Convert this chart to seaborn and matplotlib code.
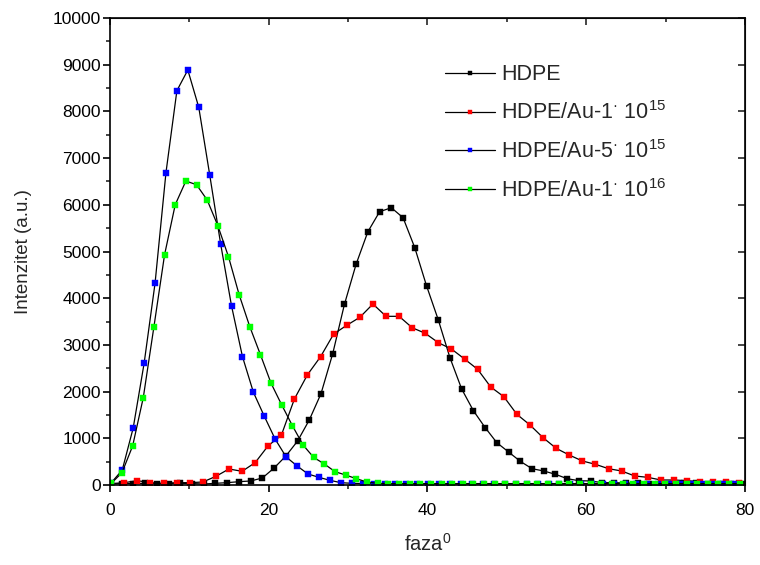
import numpy as np
import pandas as pd
import matplotlib
matplotlib.use("Agg")
import matplotlib.pyplot as plt
from matplotlib.ticker import MultipleLocator
import seaborn as sns

# intensities, one list per sample
hdpe = [20, 30, 30, 36, 30, 30, 36, 30, 21, 36, 50, 71, 86, 150, 364, 620, 940,
        1392, 1955, 2812, 3869, 4732, 5424, 5852, 5938, 5724, 5082, 4268, 3540,
        2726, 2056, 1591, 1230, 906, 707, 507, 349, 300, 229, 135, 92, 86, 50,
        50, 43, 36, 30, 30, 30, 36, 36, 30, 30, 30, 25]
au1_15 = [30, 50, 92, 50, 36, 50, 50, 64, 185, 343, 293, 478, 842, 1063, 1842,
          2362, 2748, 3233, 3420, 3591, 3876, 3612, 3612, 3368, 3248, 3047, 2912,
          2698, 2477, 2099, 1891, 1513, 1285, 1013, 785, 642, 514, 443, 349, 300,
          193, 164, 107, 107, 92, 71, 57, 57, 50]
au5_15 = [50, 321, 1220, 2605, 4318, 6690, 8445, 8887, 8088, 6645, 5167, 3833,
          2748, 1985, 1471, 978, 600, 407, 235, 164, 100, 50, 36, 30, 30, 25, 25,
          25, 25, 25, 25, 25, 25, 25, 25, 25, 25, 25, 25, 25, 25, 25, 25, 25, 25,
          25, 25, 25, 25, 25, 25, 25, 25, 25, 25, 25, 25, 25]
au1_16 = [36, 264, 835, 1870, 3390, 4932, 6003, 6510, 6430, 6103, 5553, 4889,
          4075, 3390, 2790, 2177, 1713, 1270, 856, 590, 450, 285, 214, 135, 64,
          36, 30, 30, 30, 30, 30, 30, 30, 30, 30, 30, 30, 30, 30, 30, 30, 30, 30,
          30, 30, 30, 30, 30, 30, 30, 30, 30, 30, 30, 30, 30, 30, 30, 30, 30]

# each sample was recorded on its own phase step (start, step)
steps = {"hdpe": (0.0, 1.477), "au1_15": (0.15, 1.649),
         "au5_15": (0.17, 1.377), "au1_16": (0.17, 1.342)}

labels = ["HDPE", "HDPE/Au-1$^{\u00b7}$ 10$^{15}$", "HDPE/Au-5$^{\u00b7}$ 10$^{15}$",
          "HDPE/Au-1$^{\u00b7}$ 10$^{16}$"]
colors = ["#000000", "#ff0000", "#0000ff", "#00ff00"]

sns.set_style("ticks")
plt.rcParams['font.family'] = ['Liberation Sans', 'DejaVu Sans']
plt.rcParams['mathtext.default'] = 'regular'

fig = plt.figure(figsize=(7.6, 5.65), dpi=100)
ax = fig.add_axes([0.1447, 0.1416, 0.8355, 0.8265])

for key, y, lab, col in zip(steps, [hdpe, au1_15, au5_15, au1_16], labels, colors):
    start, step = steps[key]
    x = start + step * np.arange(len(y))
    df = pd.DataFrame({"faza": x, "I": y})
    sns.lineplot(data=df, x="faza", y="I", ax=ax, color="black", linewidth=0.9,
                 marker="s", markersize=5, markerfacecolor=col,
                 markeredgecolor=col, markeredgewidth=0.3, label=lab)

ax.set_xlim(0, 80)
ax.set_ylim(0, 10000)
ax.xaxis.set_major_locator(MultipleLocator(20))
ax.xaxis.set_minor_locator(MultipleLocator(10))
ax.yaxis.set_major_locator(MultipleLocator(1000))
ax.yaxis.set_minor_locator(MultipleLocator(500))
ax.tick_params(which="major", direction="out", length=5, width=1.2,
               labelsize=12.5, colors="black")
ax.tick_params(which="minor", direction="out", length=3, width=1.2)
ax.tick_params(axis="x", which="major", pad=8)
ax.tick_params(axis="y", which="major", pad=1.5)
for s in ax.spines.values():
    s.set_linewidth(1.2)
    s.set_color("black")

# inward ticks on the top and right frame
top = ax.secondary_xaxis("top")
top.xaxis.set_major_locator(MultipleLocator(20))
top.xaxis.set_minor_locator(MultipleLocator(10))
top.tick_params(which="major", direction="in", length=5, width=1.2, labeltop=False)
top.tick_params(which="minor", direction="in", length=3, width=1.2)
right = ax.secondary_yaxis("right")
right.yaxis.set_major_locator(MultipleLocator(1000))
right.yaxis.set_minor_locator(MultipleLocator(500))
right.tick_params(which="major", direction="in", length=5, width=1.2, labelright=False)
right.tick_params(which="minor", direction="in", length=0)

ax.set_xlabel("faza$^0$", fontsize=14.5, labelpad=11)
ax.set_ylabel("Intenzitet (a.u.)", fontsize=13.5, labelpad=15)

ax.legend(loc="upper left", bbox_to_anchor=(0.5276, 0.901), frameon=False,
          fontsize=15.5, markerscale=0.65, handlelength=2.3, handletextpad=0.3,
          labelspacing=0.74, borderaxespad=0, borderpad=0)

fig.savefig("out.png", dpi=100)
